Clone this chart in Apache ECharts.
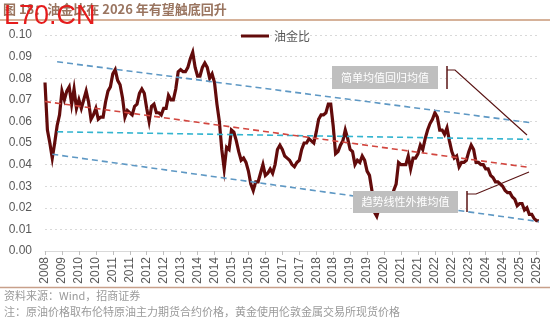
<!DOCTYPE html>
<html><head><meta charset="utf-8">
<script src="https://cdn.jsdelivr.net/npm/echarts@6/dist/echarts.min.js"></script>
<style>html,body{margin:0;padding:0;background:#fff;}#c{width:550px;height:323px;}</style>
</head><body><div id="c"></div>
<script>
// Monthly categories Nov 2008 .. Nov 2025
const startYear = 2008, startMonth = 11, nPoints = 205;
const months = [];
for (let k = 0; k < nPoints; k++) {
  const m = startMonth - 1 + k;
  const y = startYear + Math.floor(m / 12);
  const mm = (m % 12) + 1;
  months.push(y + '-' + (mm < 10 ? '0' + mm : mm));
}
// Oil/gold ratio
const oilGold = [
0.078,0.056,0.050,0.043,0.050,0.058,0.063,0.074,0.070,0.074,
0.076,0.068,0.075,0.066,0.070,0.066,0.070,0.074,0.069,0.061,
0.063,0.066,0.061,0.062,0.062,0.069,0.074,0.076,0.082,0.084,
0.079,0.077,0.071,0.062,0.065,0.064,0.063,0.067,0.068,0.073,
0.075,0.073,0.066,0.060,0.067,0.068,0.064,0.064,0.063,0.066,
0.066,0.072,0.070,0.070,0.075,0.083,0.084,0.083,0.083,0.085,
0.089,0.092,0.085,0.081,0.081,0.085,0.087,0.085,0.080,0.082,
0.078,0.068,0.060,0.047,0.038,0.048,0.047,0.056,0.055,0.051,
0.046,0.042,0.043,0.041,0.037,0.031,0.028,0.032,0.032,0.036,
0.040,0.035,0.036,0.038,0.036,0.040,0.047,0.049,0.047,0.044,
0.043,0.042,0.040,0.039,0.041,0.042,0.047,0.050,0.050,0.052,
0.051,0.050,0.055,0.061,0.063,0.063,0.064,0.068,0.068,0.058,
0.045,0.046,0.049,0.051,0.056,0.052,0.047,0.046,0.040,0.042,
0.041,0.044,0.042,0.037,0.035,0.028,0.018,0.016,0.020,0.022,
0.022,0.021,0.022,0.024,0.028,0.031,0.041,0.040,0.040,0.040,
0.044,0.038,0.043,0.043,0.045,0.049,0.047,0.052,0.056,0.059,
0.061,0.064,0.062,0.056,0.056,0.054,0.057,0.051,0.046,0.043,
0.044,0.039,0.041,0.041,0.042,0.046,0.049,0.047,0.041,0.041,
0.040,0.040,0.038,0.038,0.035,0.034,0.032,0.032,0.031,0.030,
0.028,0.027,0.027,0.025,0.024,0.021,0.022,0.022,0.019,0.020,
0.017,0.017,0.015,0.014,0.014
];
// Trend lines: [start index, end index] and [start value, end value]
const upperIdx = [5, 200],  upperVal = [0.0876, 0.0595];
const meanIdx  = [5, 200],  meanVal  = [0.0552, 0.0517];
const trendIdx = [0, 200],  trendVal = [0.0692, 0.0387];
const lowerIdx = [3, 204],  lowerVal = [0.0448, 0.0136];
const yTicks = [0, 0.10, 0.01];

const seg = (idx, val) => [[idx[0], val[0]], [idx[1], val[1]]];
const dashed = (name, color, idx, val) => ({
  name, type: 'line', data: seg(idx, val), symbol: 'none', silent: true,
  lineStyle: { color, width: 1.6, type: [6, 4] }, z: 3
});

const chart = echarts.init(document.getElementById('c'), null, { renderer: 'canvas' });
const axisFont = { fontFamily: 'Liberation Sans, Arial, sans-serif', fontSize: 12, color: '#595959' };
const cjk = '"Noto Sans CJK SC", sans-serif';
const Z = 100;

chart.setOption({
  animation: false,
  backgroundColor: '#fff',
  grid: { left: 45, right: 11, top: 35, bottom: 72, containLabel: false },
  legend: {
    data: [{ name: '油金比' }], left: 236, top: 25, itemWidth: 28, itemHeight: 3, itemGap: 4,
    icon: 'rect', textStyle: { fontFamily: cjk, fontSize: 12, color: '#595959' }
  },
  xAxis: {
    type: 'category', data: months, boundaryGap: false,
    axisLine: { lineStyle: { color: '#D9D9D9' } },
    axisTick: { interval: 6, length: 4, lineStyle: { color: '#BFBFBF' } },
    axisLabel: Object.assign({ interval: 6, rotate: 90, margin: 6, formatter: v => v.slice(0, 4) }, axisFont),
    splitLine: { show: false }
  },
  yAxis: {
    type: 'value', min: yTicks[0], max: yTicks[1], interval: yTicks[2],
    axisLine: { show: false }, axisTick: { show: false },
    axisLabel: Object.assign({ margin: 13, formatter: v => v.toFixed(2) }, axisFont),
    splitLine: { lineStyle: { color: '#D9D9D9', type: [2, 3], width: 1 } }
  },
  series: [
    dashed('upper', '#5E98C4', upperIdx, upperVal),
    dashed('mean', '#33B4CF', meanIdx, meanVal),
    dashed('trend', '#D2463F', trendIdx, trendVal),
    dashed('lower', '#5E98C4', lowerIdx, lowerVal),
    {
      name: '油金比', type: 'line', data: oilGold, symbol: 'none', z: 2,
      lineStyle: { color: '#620B0B', width: 3.2, join: 'miter' }, itemStyle: { color: '#620B0B' }
    }
  ],
  graphic: [
    { type: 'line', z: Z, shape: { x1: 0, y1: 20, x2: 550, y2: 20 }, style: { stroke: '#C89878', lineWidth: 1.5 } },
    { type: 'text', z: Z, left: 3, top: 3, style: { text: '图 18：油金比在 2026 年有望触底回升', fill: '#9A7560', font: 'bold 13px ' + cjk } },
    { type: 'text', z: Z + 1, left: 4, top: 3, style: { text: 'L70.CN', fill: '#E51C1C', font: '27px "Liberation Sans", Arial, sans-serif' } },
    // annotation 1
    { type: 'rect', z: Z, shape: { x: 332, y: 66, width: 106, height: 23 }, style: { fill: '#BFBFBF' } },
    { type: 'text', z: Z + 1, x: 385, y: 77.5, style: { text: '简单均值回归均值', fill: '#fff', font: '11px ' + cjk, align: 'center', verticalAlign: 'middle' } },
    { type: 'polyline', z: Z, shape: { points: [[447, 66], [447, 89]] }, style: { stroke: '#5A1414', lineWidth: 1.5 } },
    { type: 'polyline', z: Z, shape: { points: [[447, 70], [455, 70], [527, 135]] }, style: { stroke: '#5A1414', lineWidth: 1.2, fill: null } },
    // annotation 2
    { type: 'rect', z: Z, shape: { x: 353, y: 191, width: 105, height: 22 }, style: { fill: '#BFBFBF' } },
    { type: 'text', z: Z + 1, x: 405.5, y: 202, style: { text: '趋势线性外推均值', fill: '#fff', font: '11px ' + cjk, align: 'center', verticalAlign: 'middle' } },
    { type: 'polyline', z: Z, shape: { points: [[467, 191], [467, 212]] }, style: { stroke: '#5A1414', lineWidth: 1.5 } },
    { type: 'polyline', z: Z, shape: { points: [[467, 194], [476, 194], [529, 172]] }, style: { stroke: '#5A1414', lineWidth: 1.2, fill: null } },
    // footer
    { type: 'line', z: Z, shape: { x1: 0, y1: 287.5, x2: 550, y2: 287.5 }, style: { stroke: '#C8A08A', lineWidth: 1.5 } },
    { type: 'text', z: Z, left: 4, top: 290, style: { text: '资料来源：Wind，招商证券', fill: '#9A9A9A', font: '11px ' + cjk } },
    { type: 'text', z: Z, left: 4, top: 306, style: { text: '注：原油价格取布伦特原油主力期货合约价格，黄金使用伦敦金属交易所现货价格', fill: '#9A9A9A', font: '11px ' + cjk } }
  ]
});
</script>
</body></html>
